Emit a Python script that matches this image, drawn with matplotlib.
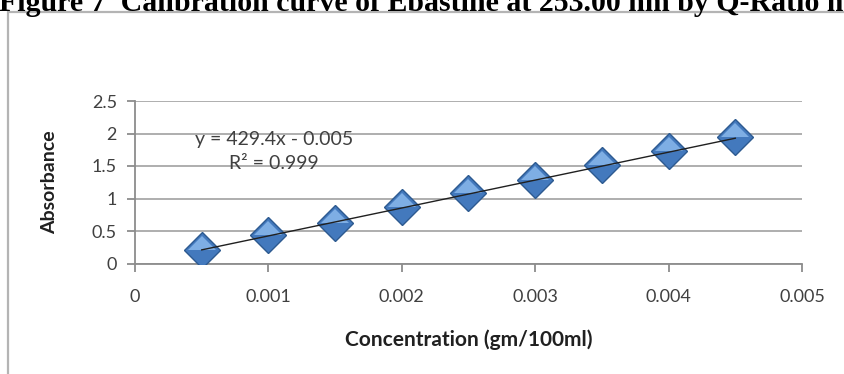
import matplotlib
matplotlib.use('Agg')
import matplotlib.pyplot as plt
import numpy as np
from matplotlib.patches import Rectangle

# calibration data
conc = [0.0005, 0.001, 0.0015, 0.002, 0.0025, 0.003, 0.0035, 0.004, 0.0045]
absorb = [0.21, 0.44, 0.62, 0.87, 1.08, 1.28, 1.51, 1.73, 1.94]
slope = 429.4
intercept = -0.005
r2 = 0.999

x_ticks = [0, 0.001, 0.002, 0.003, 0.004, 0.005]
x_ticklabels = ['0', '0.001', '0.002', '0.003', '0.004', '0.005']
y_ticks = [0, 0.5, 1, 1.5, 2, 2.5]
y_ticklabels = ['0', '0.5', '1', '1.5', '2', '2.5']

W, H = 845, 374
fig = plt.figure(figsize=(W / 100, H / 100), dpi=100)
fig.patch.set_facecolor('white')

# figure caption (top half runs off the page)
fig.text(-0.001, 1 - 11 / H, 'Figure 7  Calibration curve of Ebastine at 253.00 nm by Q-Ratio method',
         family='Liberation Serif', fontweight='bold', fontsize=21.5, va='baseline', ha='left')

# chart frame
fig.patches.append(Rectangle((8 / W, -0.2), 1.2, 1.2 - 12 / H,
                             transform=fig.transFigure, fill=False,
                             edgecolor='#b4b4b4', linewidth=1.6))

ax = fig.add_axes([135 / W, 1 - 263.5 / H, (802 - 135) / W, (263.5 - 101) / H])
ax.set_xlim(0, 0.005)
ax.set_ylim(0, 2.5)

ax.set_yticks(y_ticks)
ax.set_yticklabels(y_ticklabels)
ax.set_xticks(x_ticks)
ax.set_xticklabels(x_ticklabels)
ax.yaxis.grid(True, color='#a8a8a8', linewidth=1.3)
ax.set_axisbelow(True)

for s in ['top', 'right']:
    ax.spines[s].set_visible(False)
for s in ['left', 'bottom']:
    ax.spines[s].set_color('#8c8c8c')
    ax.spines[s].set_linewidth(1.3)
ax.tick_params(axis='both', colors='#8c8c8c', width=1.3, length=6,
               labelsize=13, labelcolor='#404040')
ax.tick_params(axis='x', pad=12)
ax.tick_params(axis='y', pad=7)
for lab in ax.get_xticklabels() + ax.get_yticklabels():
    lab.set_family('Lato')

# diamond markers with a lighter upper half
ax.plot(conc, absorb, linestyle='none', marker='D', markersize=18.5,
        markerfacecolor='#4379bd', markeredgecolor='#2d5a90', markeredgewidth=1.0, zorder=3)
ax.plot(conc, absorb, linestyle='none', marker='D', markersize=14, fillstyle='top',
        markerfacecolor='#7eaee4', markerfacecoloralt='none', markeredgewidth=0, zorder=3)

# linear trendline
xs = np.array([conc[0], conc[-1]])
ax.plot(xs, slope * xs + intercept, color='#202020', linewidth=1.0, zorder=4)

ax.text(0.00104, 1.90, 'y = 429.4x - 0.005', ha='center', va='center',
        fontsize=14, family='Lato', color='#404040')
ax.text(0.00104, 1.54, 'R² = ' + str(r2), ha='center', va='center',
        fontsize=14, family='Lato', color='#404040')

ax.set_xlabel('Concentration (gm/100ml)', family='Lato', fontweight='bold',
              fontsize=15, color='#202020')
ax.xaxis.set_label_coords(0.5, -(340 - 263.5) / (263.5 - 101))
ax.set_ylabel('Absorbance', family='Lato', fontweight='bold',
              fontsize=14, color='#202020')
ax.yaxis.set_label_coords((50 - 135) / (802 - 135), 0.5)
ax.xaxis.label.set_va('center')
ax.yaxis.label.set_va('center')

fig.savefig('out.png', dpi=100)
